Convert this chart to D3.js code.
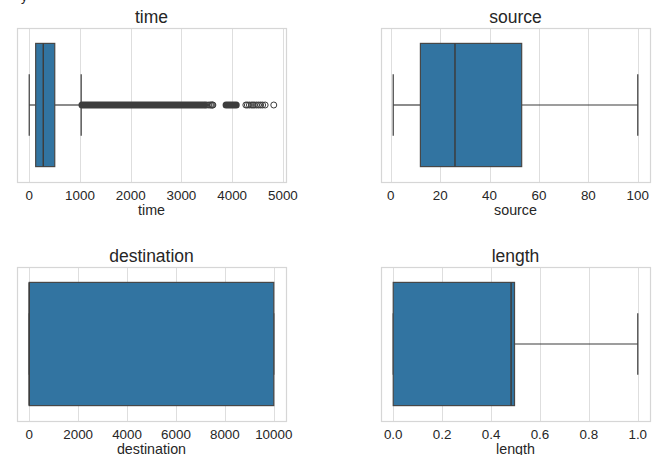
<!DOCTYPE html>
<html>
<head>
<meta charset="utf-8">
<script src="https://cdn.jsdelivr.net/npm/d3@7"></script>
<style>
  body { margin: 0; background: #fff; }
  svg text { font-family: "Liberation Sans", Arial, sans-serif; fill: #262626; }
</style>
</head>
<body>
<svg id="chart" width="656" height="455"></svg>
<script>
const W = 656, H = 455;

// box statistics, one entry per panel
const names = ["time", "source", "destination", "length"];
const lowWhisker = [0, 1, 0, 0];
const q1 = [127, 12, 0, 0];
const medians = [277, 26, 0, 0.482];
const q3 = [503, 53, 10000, 0.496];
const highWhisker = [1024, 100, 10000, 1.0];

// tick labels
const timeTicks = [0, 1000, 2000, 3000, 4000, 5000];
const sourceTicks = [0, 20, 40, 60, 80, 100];
const destTicks = [0, 2000, 4000, 6000, 8000, 10000];
const lengthTicks = [0.0, 0.2, 0.4, 0.6, 0.8, 1.0];
const ticks = [timeTicks, sourceTicks, destTicks, lengthTicks];
const tickFormats = [d3.format("d"), d3.format("d"), d3.format("d"), d3.format(".1f")];

// outliers of "time": dense stretches of overlapping circles, then single points
const timeOutlierRuns = [[1040, 3440], [3880, 4080]];
const timeOutliers = [3470, 3500, 3540, 3570, 3590, 3610, 3620,
                      4270, 4300, 4340, 4380, 4410, 4440, 4480, 4520, 4560, 4600, 4650, 4820];

// panel frames (left, top, width, height)
const frames = [
    [17, 28, 269, 154],
    [381, 28, 269, 154],
    [17, 267, 269, 154],
    [381, 267, 269, 154]
];

const boxFill = "#3274a1";
const lineCol = "#3d3d3d";
const gridCol = "#dedede";

const svg = d3.select("#chart");

// cut-off text fragment at the very top left
svg.append("text").attr("x", 21).attr("y", 1).style("font-size", "13px").text("y");

function drawPanel(i) {
    const [fx, fy, fw, fh] = frames[i];
    const g = svg.append("g").attr("transform", `translate(${fx},${fy})`);

    let lo = lowWhisker[i], hi = highWhisker[i];
    if (i == 0) {
        lo = Math.min(lo, d3.min(timeOutliers), d3.min(timeOutlierRuns, d => d[0]));
        hi = Math.max(hi, d3.max(timeOutliers), d3.max(timeOutlierRuns, d => d[1]));
    }
    const pad = (hi - lo) * 0.05;
    const x = d3.scaleLinear().domain([lo - pad, hi + pad]).range([0, fw]);
    const y = d3.scaleLinear().domain([-0.5, 0.5]).range([0, fh]);

    // grid
    g.append("g")
      .selectAll("line")
      .data(ticks[i])
      .enter()
      .append("line")
      .attr("x1", d => Math.round(x(d)) + 0.5)
      .attr("x2", d => Math.round(x(d)) + 0.5)
      .attr("y1", 0).attr("y2", fh)
      .attr("stroke", gridCol).attr("stroke-width", 1);

    // frame
    g.append("rect")
      .attr("x", 0.5).attr("y", 0.5)
      .attr("width", fw).attr("height", fh)
      .attr("fill", "none").attr("stroke", "#d6d6d6").attr("stroke-width", 1.2);

    // whiskers
    g.append("line")
      .attr("x1", x(lowWhisker[i])).attr("x2", x(q1[i]))
      .attr("y1", y(0)).attr("y2", y(0))
      .attr("stroke", lineCol).attr("stroke-width", 1.2);
    g.append("line")
      .attr("x1", x(q3[i])).attr("x2", x(highWhisker[i]))
      .attr("y1", y(0)).attr("y2", y(0))
      .attr("stroke", lineCol).attr("stroke-width", 1.2);

    // caps
    g.selectAll(".cap")
      .data([lowWhisker[i], highWhisker[i]])
      .enter()
      .append("line")
      .attr("class", "cap")
      .attr("x1", d => x(d)).attr("x2", d => x(d))
      .attr("y1", y(-0.2)).attr("y2", y(0.2))
      .attr("stroke", lineCol).attr("stroke-width", 1.2);

    // box
    g.append("rect")
      .attr("x", x(q1[i]))
      .attr("y", y(-0.4))
      .attr("width", x(q3[i]) - x(q1[i]))
      .attr("height", y(0.4) - y(-0.4))
      .attr("fill", boxFill)
      .attr("stroke", "#474747").attr("stroke-width", 1.2);

    // median
    g.append("line")
      .attr("x1", x(medians[i])).attr("x2", x(medians[i]))
      .attr("y1", y(-0.4)).attr("y2", y(0.4))
      .attr("stroke", lineCol).attr("stroke-width", 1.5);

    if (i == 0) {
        g.selectAll(".run")
          .data(timeOutlierRuns)
          .enter()
          .append("line")
          .attr("class", "run")
          .attr("x1", d => x(d[0])).attr("x2", d => x(d[1]))
          .attr("y1", y(0)).attr("y2", y(0))
          .attr("stroke", lineCol).attr("stroke-width", 7)
          .attr("stroke-linecap", "round");
        g.selectAll(".flier")
          .data(timeOutliers)
          .enter()
          .append("circle")
          .attr("class", "flier")
          .attr("cx", d => x(d)).attr("cy", y(0))
          .attr("r", 3)
          .attr("fill", "none")
          .attr("stroke", lineCol).attr("stroke-width", 1);
    }

    // tick labels
    g.append("g")
      .selectAll("text")
      .data(ticks[i])
      .enter()
      .append("text")
      .attr("x", d => x(d))
      .attr("y", fh + 17.5)
      .attr("text-anchor", "middle")
      .style("font-size", "13.4px")
      .text(d => tickFormats[i](d));

    // axis label
    g.append("text")
      .attr("x", fw / 2).attr("y", fh + 32.5)
      .attr("text-anchor", "middle")
      .style("font-size", "14.3px")
      .text(names[i]);

    // title
    g.append("text")
      .attr("x", fw / 2).attr("y", -5)
      .attr("text-anchor", "middle")
      .style("font-size", "17.5px")
      .text(names[i]);
}

names.forEach((n, i) => drawPanel(i));
</script>
</body>
</html>
